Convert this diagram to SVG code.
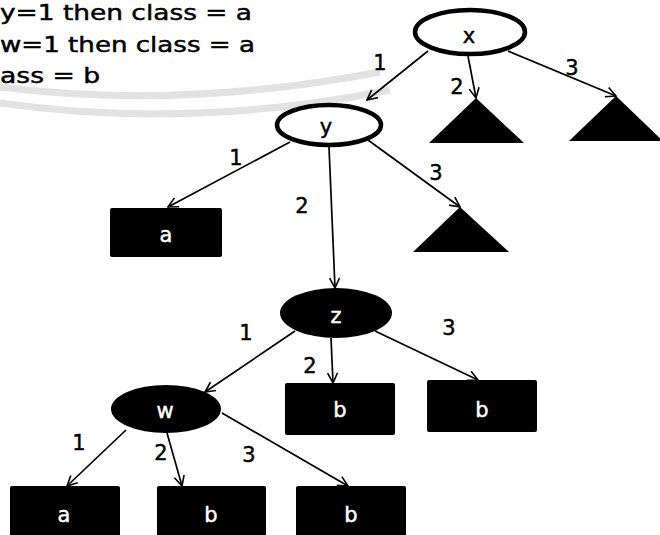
<svg xmlns="http://www.w3.org/2000/svg" width="660" height="535" viewBox="0 0 660 535">
<style>
text{font-family:"DejaVu Sans","Verdana","Liberation Sans",sans-serif;font-size:21px;fill:#000;stroke:#000;stroke-width:0.45}
.c{text-anchor:middle}
.w{fill:#fff;stroke:#fff}
.edge{stroke:#000;stroke-width:1.7;fill:none;marker-end:url(#arr)}
.wm{fill:none;stroke:#e2e2e2;stroke-width:7}
.open{fill:#fff;stroke:#000;stroke-width:4.5}
.solid{fill:#000}
</style>
<defs>
<marker id="arr" viewBox="0 0 12 12" refX="11" refY="6" markerWidth="12" markerHeight="12" markerUnits="userSpaceOnUse" orient="auto">
<path d="M1,1 L11,6 L1,11" fill="none" stroke="#000" stroke-width="1.6"/>
</marker>
</defs>
<rect width="660" height="535" fill="#fff"/>
<g id="watermark">
<path class="wm" d="M0,87 Q180,110 380,72"/>
<path class="wm" d="M0,103 Q190,130 390,90"/>
</g>
<g id="rules">
<text x="0" y="20" textLength="252" lengthAdjust="spacingAndGlyphs">y=1 then class = a</text>
<text x="0" y="52" textLength="255" lengthAdjust="spacingAndGlyphs">w=1 then class = a</text>
<text x="0" y="83" textLength="100" lengthAdjust="spacingAndGlyphs">ass = b</text>
</g>
<g id="connectors">
<line class="edge" x1="428" y1="51" x2="367" y2="100"/>
<line class="edge" x1="468" y1="56" x2="476" y2="98"/>
<line class="edge" x1="508" y1="51" x2="616" y2="96"/>
<line class="edge" x1="290" y1="142" x2="168" y2="207"/>
<line class="edge" x1="329" y1="147" x2="335" y2="288"/>
<line class="edge" x1="368" y1="140" x2="460" y2="207"/>
<line class="edge" x1="295" y1="331" x2="205" y2="392"/>
<line class="edge" x1="331" y1="338" x2="333" y2="383"/>
<line class="edge" x1="375" y1="331" x2="478" y2="380"/>
<line class="edge" x1="126" y1="430" x2="67" y2="486"/>
<line class="edge" x1="167" y1="433" x2="182" y2="486"/>
<line class="edge" x1="222" y1="413" x2="348" y2="486"/>
<text class="c" x="380" y="70">1</text>
<text class="c" x="457" y="94">2</text>
<text class="c" x="572" y="75">3</text>
<text class="c" x="236" y="165">1</text>
<text class="c" x="302" y="213">2</text>
<text class="c" x="436" y="180">3</text>
<text class="c" x="246" y="340">1</text>
<text class="c" x="310" y="373">2</text>
<text class="c" x="449" y="335">3</text>
<text class="c" x="79" y="450">1</text>
<text class="c" x="161" y="460">2</text>
<text class="c" x="249" y="462">3</text>
</g>
<g id="node-x">
<ellipse class="open" cx="470" cy="32" rx="55" ry="22"/>
<text class="c" x="469" y="43">x</text>
</g>
<g id="node-y">
<ellipse class="open" cx="329" cy="125" rx="52" ry="20"/>
<text class="c" x="326" y="134">y</text>
</g>
<g id="subtree-x2"><polygon class="solid" points="476,98 429,143 524,143"/></g>
<g id="subtree-x3"><polygon class="solid" points="616,96 569,141 663,141"/></g>
<g id="subtree-y3"><polygon class="solid" points="460,207 413,252 509,252"/></g>
<g id="leaf-y1">
<rect class="solid" x="110" y="208" width="112" height="49" rx="2"/>
<text class="c" x="166" y="242" style="fill:#fff;stroke:#fff">a</text>
</g>
<g id="node-z">
<ellipse class="solid" cx="336" cy="313" rx="56" ry="25"/>
<text class="c w" x="336" y="323">z</text>
</g>
<g id="node-w">
<ellipse class="solid" cx="166" cy="409" rx="55" ry="24"/>
<text class="c w" x="165" y="418">w</text>
</g>
<g id="leaf-z2">
<rect class="solid" x="285" y="383" width="110" height="52" rx="2"/>
<text class="c w" x="340" y="417">b</text>
</g>
<g id="leaf-z3">
<rect class="solid" x="427" y="380" width="110" height="52" rx="2"/>
<text class="c w" x="482" y="417">b</text>
</g>
<g id="leaf-w1">
<rect class="solid" x="10" y="486" width="110" height="52" rx="2"/>
<text class="c w" x="64" y="522">a</text>
</g>
<g id="leaf-w2">
<rect class="solid" x="157" y="486" width="109" height="52" rx="2"/>
<text class="c w" x="211" y="522">b</text>
</g>
<g id="leaf-w3">
<rect class="solid" x="296" y="486" width="110" height="52" rx="2"/>
<text class="c w" x="351" y="522">b</text>
</g>
</svg>
